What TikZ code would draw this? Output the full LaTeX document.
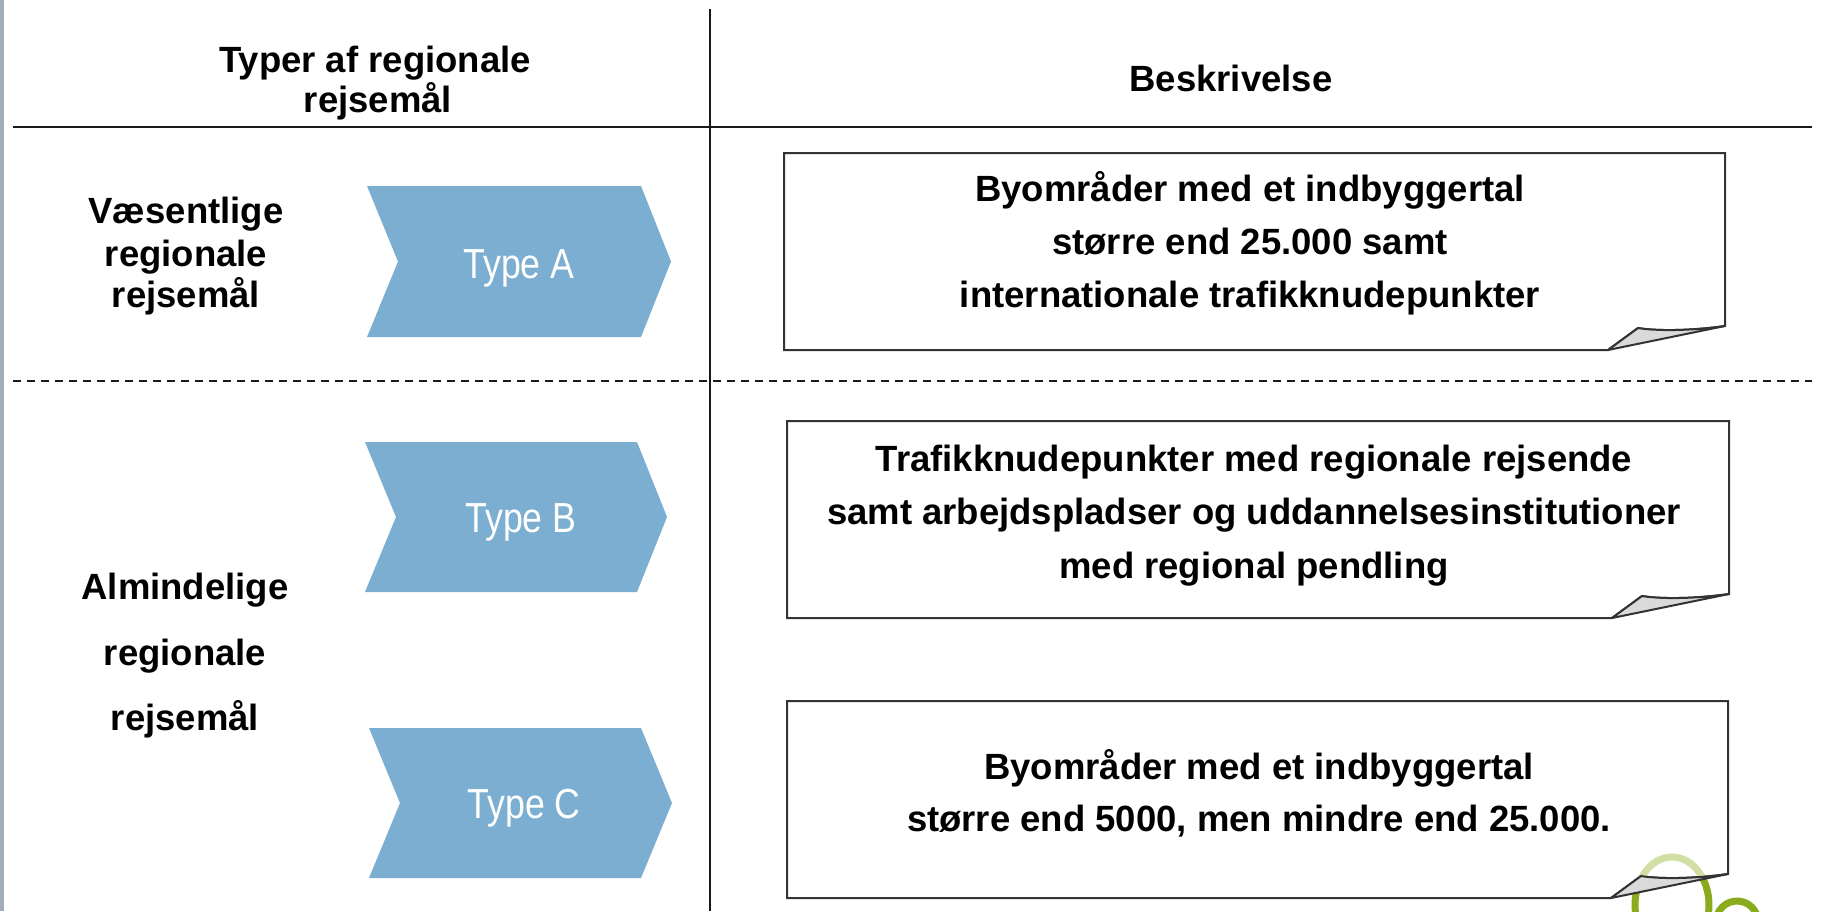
\documentclass[tikz,border=0pt]{standalone}
\usepackage{fontspec}
\setmainfont{Liberation Sans}
\newfontfamily\narrowfont[FakeStretch=0.85]{Liberation Sans}
\definecolor{chev}{HTML}{7BAED0}
\definecolor{boxline}{HTML}{333333}
\definecolor{curlfill}{HTML}{DADADA}
\definecolor{leftbar}{HTML}{A3ADB8}
\definecolor{logogreen}{HTML}{8AAC1C}
\definecolor{logolight}{HTML}{D2DFA4}
\tikzset{
  txt/.style={anchor=base, inner sep=0pt, font=\fontsize{36.5}{40}\selectfont\bfseries},
  typetxt/.style={anchor=base, inner sep=0pt, text=white, font=\fontsize{42}{46}\selectfont\narrowfont},
  chevron/.style={fill=chev, draw=none},
  notebox/.style={fill=white, draw=boxline, line width=2pt, line join=miter},
  curl/.style={fill=curlfill, draw=boxline, line width=2pt, line join=round},
  rule/.style={draw=black!90, line width=2.5pt},
}
% #1 left, #2 top, #3 right, #4 bottom
\newcommand\mynotebox[4]{%
  \path[notebox] (#1,#2) -- (#3,#2) -- (#3,#4-24)
     .. controls (#3-35,#4-19) and (#3-70,#4-19) .. (#3-87,#4-22)
     -- (#3-117,#4) -- (#1,#4) -- cycle;
}
\newcommand\mycurl[2]{%
  \path[curl] (#1-117,#2) -- (#1-87,#2-22)
     .. controls (#1-70,#2-19) and (#1-35,#2-19) .. (#1,#2-24) -- cycle;
}
\begin{document}
\begin{tikzpicture}[x=1pt,y=-1pt]
\useasboundingbox (0,0) rectangle (1821,911);
\fill[white] (0,0) rectangle (1821,911);
\fill[leftbar] (0,0) rectangle (3.5,911);

% rules
\draw[rule] (710,9) -- (710,911);
\draw[rule] (13,127) -- (1812,127);
\draw[black!90, line width=2pt, dash pattern=on 8pt off 6pt] (13,381) -- (1812,381);

% header
\node[txt] (h1) at (375,72.5) {Typer af regionale};
\node[txt] (h2) at (378,112.5) {rejsemål};
\node[txt] (h3) at (1231,91.5) {Beskrivelse};

% left labels
\node[txt] (v1) at (186,223.5) {Væsentlige};
\node[txt] (v2) at (186,266) {regionale};
\node[txt] (v3) at (186,307.5) {rejsemål};
\node[txt] (a1) at (185,599.5) {Almindelige};
\node[txt] (a2) at (185,665.5) {regionale};
\node[txt] (a3) at (185,730.5) {rejsemål};

% chevrons
\path[chevron] (367,186) -- (641,186) -- (671,261.5) -- (641,337) -- (367,337) -- (398,261.5) -- cycle;
\node[typetxt] (ta) at (519,278) {Type A};
\path[chevron] (365,442) -- (637,442) -- (667,517) -- (637,592) -- (365,592) -- (396,517) -- cycle;
\node[typetxt] (tb) at (521,532) {Type B};
\path[chevron] (369,728) -- (641,728) -- (672,803) -- (641,878) -- (369,878) -- (400,803) -- cycle;
\node[typetxt] (tc) at (524,818) {Type C};

% boxes
\mynotebox{784}{153}{1725}{350}
\mycurl{1725}{350}
\node[txt] (b1a) at (1250,201.5) {Byområder med et indbyggertal};
\node[txt] (b1b) at (1250,254.5) {større end 25.000 samt};
\node[txt] (b1c) at (1250,307.5) {internationale trafikknudepunkter};

\mynotebox{787}{421}{1729}{618}
\mycurl{1729}{618}
\node[txt] (b2a) at (1254,471.5) {Trafikknudepunkter med regionale rejsende};
\node[txt] (b2b) at (1254,524.5) {samt arbejdspladser og uddannelsesinstitutioner};
\node[txt] (b2c) at (1254,578.5) {med regional pendling};

\mynotebox{787}{701}{1728}{898}
% logo fragment
\begin{scope}
  \clip (1600,840) rectangle (1821,911);
  \draw[logolight, line width=7pt] (1672,905) ++(36:37pt and 48pt)
     arc[start angle=36, end angle=165, x radius=37pt, y radius=48pt];
  \draw[logogreen, line width=7pt] (1672,905) ++(165:37pt and 48pt)
     arc[start angle=165, end angle=396, x radius=37pt, y radius=48pt];
  \draw[logogreen, line width=7pt] (1716,922) arc[start angle=180, end angle=0, radius=21pt];
\end{scope}
\mycurl{1728}{898}
\node[txt] (b3a) at (1259,779) {Byområder med et indbyggertal};
\node[txt] (b3b) at (1259,831) {større end 5000, men mindre end 25.000.};
\end{tikzpicture}
\end{document}
